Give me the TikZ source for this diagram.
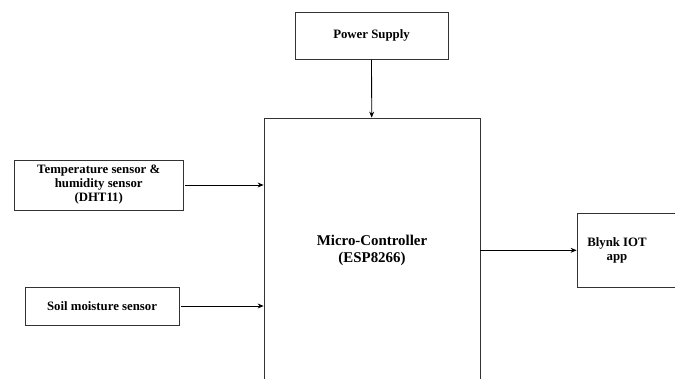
\documentclass[tikz,border=0pt]{standalone}
\usepackage{fontspec}
\setmainfont{Liberation Serif}
\usetikzlibrary{arrows.meta}

\begin{document}
\begin{tikzpicture}[x=1pt,y=1pt,>={Stealth[length=6pt,width=5pt]},line width=0.8pt,
  block/.style={rectangle,draw=black!80,inner sep=2pt,align=center,font=\bfseries\fontsize{12.8}{14}\selectfont},
  main block/.style={block,font=\bfseries\fontsize{14.9}{17}\selectfont}]

            \useasboundingbox (0,0) rectangle (675,378);

            \node[block, minimum width=153pt, minimum height=47pt] (power) at (371.5,342.3) {Power Supply};
            \node[main block, minimum width=216pt, minimum height=264pt] (mcu) at (372,128) {Micro-Controller\\(ESP8266)};
            \node[block, minimum width=168.7pt, minimum height=50pt] (dht) at (98.7,193) {Temperature sensor \&\\humidity sensor\\(DHT11)};
            \node[block, minimum width=154pt, minimum height=38pt] (soil) at (102,72) {Soil moisture sensor};
            \node[block, minimum width=99pt, minimum height=74pt,
                  label={[xshift=-9.5pt,align=center,font=\bfseries\fontsize{12.8}{14}\selectfont]center:Blynk IOT\\app}] (blynk) at (626.5,127.7) {};

            \draw[->] (power) to (mcu);
            \draw[->, shorten <=2pt] (dht.east) to (dht.east -| mcu.west);
            \draw[->, shorten <=2pt] (soil.east) to (soil.east -| mcu.west);
            \draw[->] (mcu.east |- blynk.west) to (blynk.west);

            ;
        \end{tikzpicture}
\end{document}
